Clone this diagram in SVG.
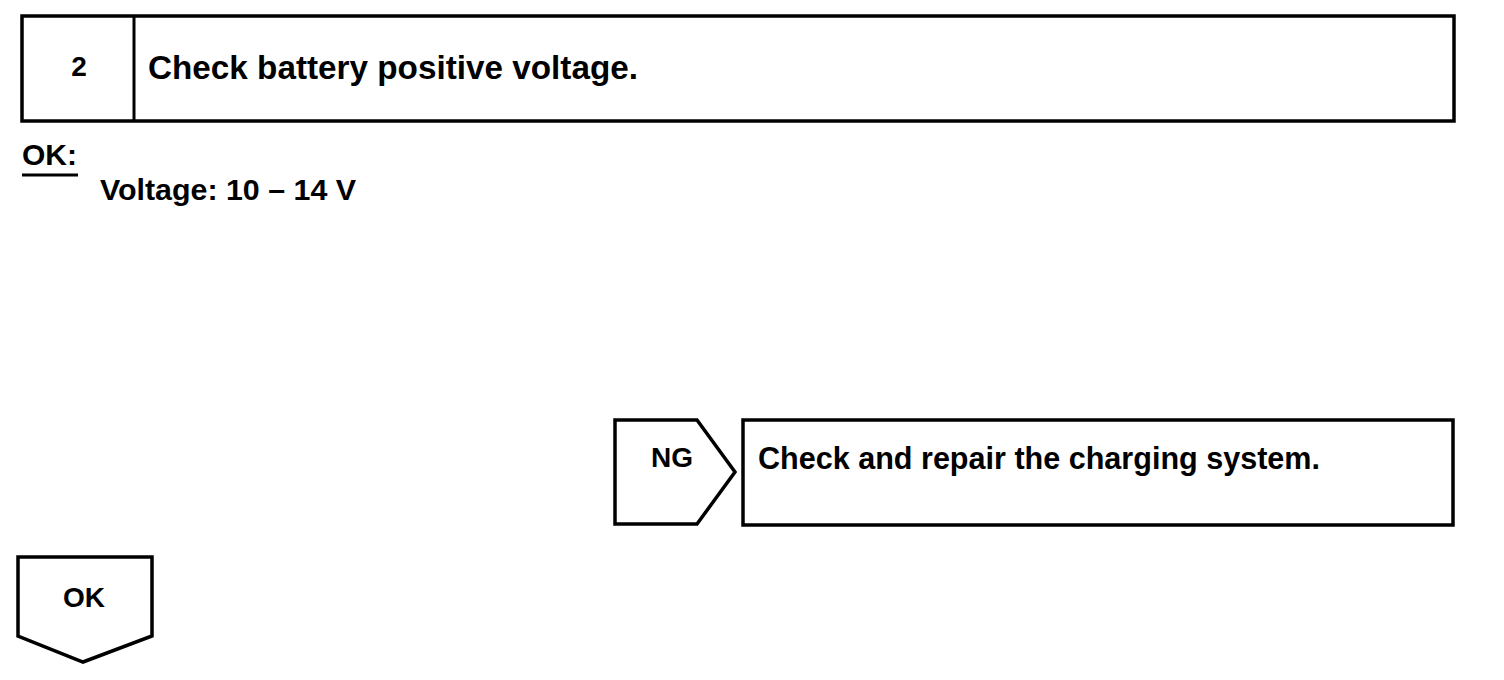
<svg xmlns="http://www.w3.org/2000/svg" width="1504" height="680" viewBox="0 0 1504 680">
<style>
.b{fill:#fff;stroke:#000;stroke-width:3.5}
.t{font-family:"Liberation Sans",Arial,sans-serif;font-weight:bold;fill:#000}
</style>
<rect x="0" y="0" width="1504" height="680" fill="#fff"/>
<g id="step">
<rect class="b" x="22" y="16" width="1432" height="105"/>
<line x1="134" y1="16" x2="134" y2="121" stroke="#000" stroke-width="3"/>
<text class="t" x="79" y="76" font-size="28" text-anchor="middle">2</text>
<text class="t" x="148" y="79" font-size="33" textLength="490" lengthAdjust="spacingAndGlyphs">Check battery positive voltage.</text>
</g>
<g id="spec">
<text class="t" x="22" y="165" font-size="30" textLength="55" lengthAdjust="spacingAndGlyphs">OK:</text>
<line x1="22" y1="175" x2="78" y2="175" stroke="#000" stroke-width="3"/>
<text class="t" x="100" y="200" font-size="30" textLength="256" lengthAdjust="spacingAndGlyphs">Voltage: 10 – 14 V</text>
</g>
<g id="ng">
<path class="b" d="M615,420 L697,420 L735,472 L697,524 L615,524 Z"/>
<text class="t" x="672" y="467" font-size="28" text-anchor="middle">NG</text>
</g>
<g id="repair">
<rect class="b" x="743" y="420" width="710" height="105"/>
<text class="t" x="758" y="469" font-size="32" textLength="562" lengthAdjust="spacingAndGlyphs">Check and repair the charging system.</text>
</g>
<g id="ok">
<path class="b" d="M18,557 L152,557 L152,636 L83,662 L18,636 Z"/>
<text class="t" x="84" y="607" font-size="28" text-anchor="middle">OK</text>
</g>
<g id="connectors"></g>
</svg>
